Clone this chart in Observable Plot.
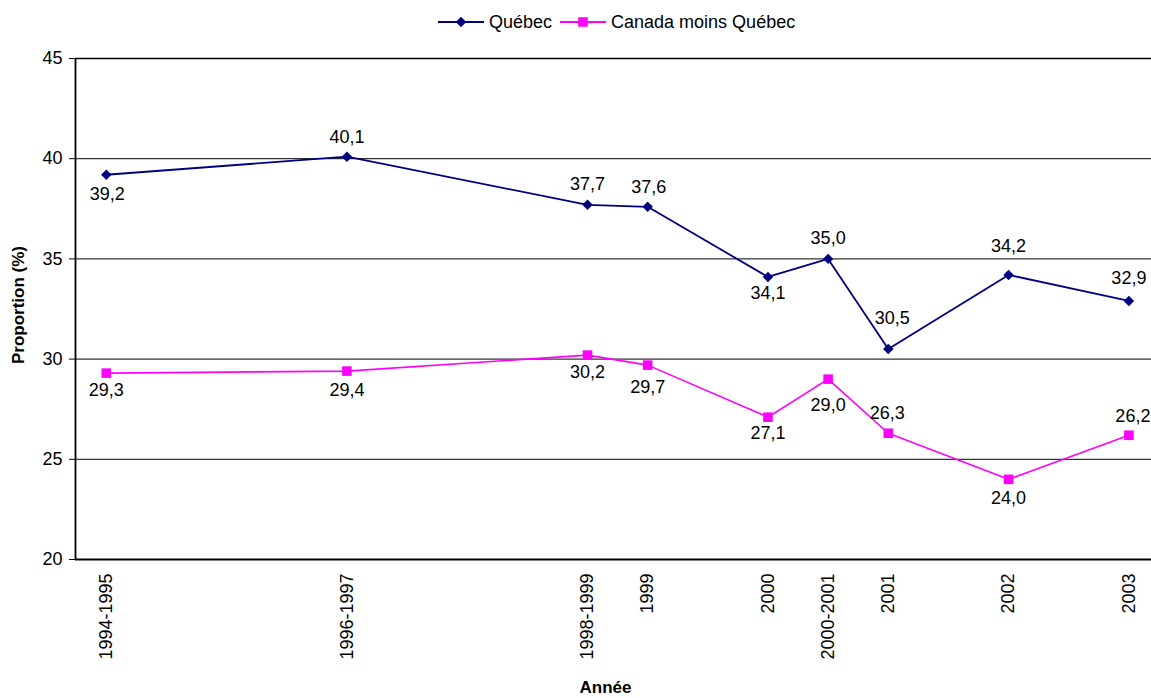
<!DOCTYPE html>
<html>
<head>
<meta charset="utf-8">
<script src="https://cdn.jsdelivr.net/npm/d3@7"></script>
<script src="https://cdn.jsdelivr.net/npm/@observablehq/plot@0.6"></script>
<style>
  html, body { margin: 0; padding: 0; background: #fff; overflow: hidden; }
  body { width: 1151px; height: 698px; position: relative; font-family: "Liberation Sans", Arial, sans-serif; }
  #legend { position: absolute; left: 438px; top: 10px; height: 24px; display: flex; align-items: center; font-size: 18px; color: #000; white-space: nowrap; }
  #legend .item { display: flex; align-items: center; margin-right: 8px; }
  #legend svg { margin-right: 5px; }
  #chart { position: absolute; left: 0; top: 40px; }
  #chart svg { display: block; }
</style>
</head>
<body>
<div id="legend"></div>
<div id="chart"></div>
<script>
// ---- data ----
const periods = ["1994-1995", "1996-1997", "1998-1999", "1999", "2000", "2000-2001", "2001", "2002", "2003"];
const periodYear = [1994.5, 1996.5, 1998.5, 1999, 2000, 2000.5, 2001, 2002, 2003]; // time-axis value of each period
const quebec = [39.2, 40.1, 37.7, 37.6, 34.1, 35.0, 30.5, 34.2, 32.9];
const canadaMoinsQuebec = [29.3, 29.4, 30.2, 29.7, 27.1, 29.0, 26.3, 24.0, 26.2];
const yTicks = [20, 25, 30, 35, 40, 45];
const gridTicks = [25, 30, 35, 40];
const seriesNames = ["Québec", "Canada moins Québec"];

// data-label placement (style): vertical / horizontal offset in px from each point
const quebecLabelDy = [20, -19, -21, -20, 16, -21, -31, -29, -23];
const quebecLabelDx = [1, 0, 0, 1, 0, 0, 4, 0, 0];
const canadaLabelDy = [17, 19, 17, 22, 16, 26, -20, 19, -19];
const canadaLabelDx = [0, 0, 0, 0, 0, 0, -1, 0, 4];

const colors = {"Québec": "#000080", "Canada moins Québec": "#FF00FF"};
const symbols = {"Québec": "diamond2", "Canada moins Québec": "square"};

const rows = [];
periods.forEach((p, i) => {
  rows.push({series: seriesNames[0], period: p, x: periodYear[i], y: quebec[i], dy: quebecLabelDy[i], dx: quebecLabelDx[i]});
  rows.push({series: seriesNames[1], period: p, x: periodYear[i], y: canadaMoinsQuebec[i], dy: canadaLabelDy[i], dx: canadaLabelDx[i]});
});
const fmt = v => v.toFixed(1).replace(".", ",");
const labelOf = new Map(periodYear.map((v, i) => [v, periods[i]]));
const xDomain = [1994.244, 2003.188];

const FONT = "Liberation Sans, Arial, sans-serif";

// one text mark per distinct offset so each label sits where the reference puts it
const labelMarks = [];
const offsetKeys = Array.from(new Set(rows.map(d => d.dx + "," + d.dy)));
offsetKeys.forEach(k => {
  const [dx, dy] = k.split(",").map(Number);
  labelMarks.push(Plot.text(rows.filter(d => d.dx === dx && d.dy === dy), {
    x: "x", y: "y", text: d => fmt(d.y), dx, dy, fontSize: 18, fill: "#000", lineAnchor: "middle"
  }));
});

const chart = Plot.plot({
  width: 1151,
  height: 658,
  marginLeft: 75,
  marginRight: 0,
  marginTop: 18,
  marginBottom: 139,
  style: {fontFamily: FONT, fontSize: "18px", color: "#000", background: "#fff", overflow: "visible"},
  x: {type: "linear", domain: xDomain},
  y: {domain: [20, 45]},
  marks: [
    Plot.ruleY(gridTicks, {stroke: "#000", strokeWidth: 1}),
    Plot.ruleY([45], {stroke: "#000", strokeWidth: 1.6}),
    Plot.ruleY([20], {stroke: "#000", strokeWidth: 1.8}),
    Plot.ruleX([xDomain[0]], {stroke: "#000", strokeWidth: 1.8}),
    Plot.axisY({ticks: yTicks, tickSize: 6, tickPadding: 7, tickFormat: d => String(d), label: null, fontSize: 18, stroke: "#000"}),
    Plot.axisX({ticks: periodYear, tickFormat: d => labelOf.get(d), tickRotate: -90, tickSize: 0, tickPadding: 14, label: null, fontSize: 18}),
    Plot.line(rows.filter(d => d.series === seriesNames[0]), {x: "x", y: "y", stroke: colors["Québec"], strokeWidth: 1.8}),
    Plot.line(rows.filter(d => d.series === seriesNames[1]), {x: "x", y: "y", stroke: colors["Canada moins Québec"], strokeWidth: 1.6}),
    Plot.dot(rows.filter(d => d.series === seriesNames[0]), {x: "x", y: "y", symbol: () => "diamond2", r: 4.7, fill: colors["Québec"], stroke: "none"}),
    Plot.dot(rows.filter(d => d.series === seriesNames[1]), {x: "x", y: "y", symbol: () => "square", r: 5.4, fill: colors["Canada moins Québec"], stroke: "none"}),
    ...labelMarks,
    Plot.text(["Proportion (%)"], {frameAnchor: "left", dx: -57, dy: -4, rotate: -90, fontSize: 17, fontWeight: "bold", fill: "#000", textAnchor: "middle"}),
    Plot.text(["Année"], {frameAnchor: "bottom", dx: -8, dy: 128, fontSize: 17, fontWeight: "bold", fill: "#000", textAnchor: "middle", lineAnchor: "middle"})
  ]
});
document.getElementById("chart").appendChild(chart);

// ---- legend ----
const legend = document.getElementById("legend");
seriesNames.forEach(name => {
  const item = document.createElement("div");
  item.className = "item";
  const ns = "http://www.w3.org/2000/svg";
  const svg = document.createElementNS(ns, "svg");
  svg.setAttribute("width", 46);
  svg.setAttribute("height", 14);
  const line = document.createElementNS(ns, "line");
  line.setAttribute("x1", 0); line.setAttribute("x2", 46);
  line.setAttribute("y1", 7); line.setAttribute("y2", 7);
  line.setAttribute("stroke", colors[name]); line.setAttribute("stroke-width", 1.8);
  svg.appendChild(line);
  const sym = symbols[name] === "square" ? d3.symbolSquare : d3.symbolDiamond2;
  const size = symbols[name] === "square" ? Math.PI * 5.4 * 5.4 : Math.PI * 4.7 * 4.7;
  const path = document.createElementNS(ns, "path");
  path.setAttribute("d", d3.symbol(sym, size)());
  path.setAttribute("transform", "translate(23,7)");
  path.setAttribute("fill", colors[name]);
  svg.appendChild(path);
  item.appendChild(svg);
  const span = document.createElement("span");
  span.textContent = name;
  item.appendChild(span);
  legend.appendChild(item);
});
</script>
</body>
</html>
